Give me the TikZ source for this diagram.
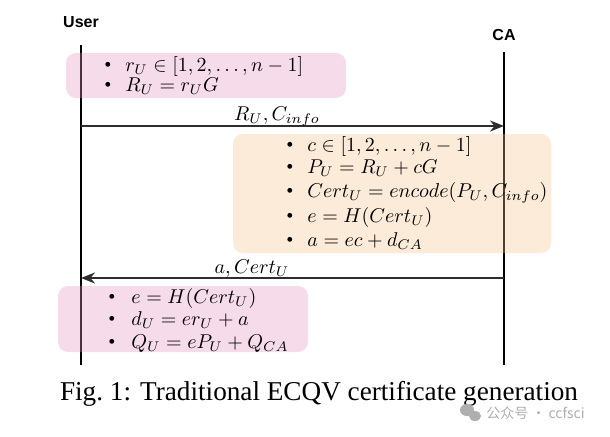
\documentclass[tikz,border=0pt]{standalone}
\usepackage{fontspec}
\usepackage{amsmath}
\setmainfont{Liberation Serif}
\newfontfamily\lblfont{Liberation Sans}
\newfontfamily\cjkfont{Noto Sans CJK SC}
\usetikzlibrary{arrows.meta}
\definecolor{pinkbox}{RGB}{230,150,195}
\definecolor{orangebox}{RGB}{250,195,140}
\definecolor{msggray}{RGB}{45,45,45}
\definecolor{wmgray}{RGB}{175,175,175}
\begin{document}
\begin{tikzpicture}[x=0.5pt,y=-0.5pt,
  actor/.style={font=\lblfont\bfseries\fontsize{8}{9}\selectfont, inner sep=0pt},
  lifeline/.style={line width=0.7pt, black},
  msg/.style={line width=1pt, msggray, -{Stealth[length=7pt,width=5.5pt]}},
  msglabel/.style={font=\fontsize{10.1}{11}\selectfont, inner sep=0pt, anchor=base},
  pbox/.style={fill=pinkbox, fill opacity=0.33, rounded corners=5pt, draw=none},
  obox/.style={fill=orangebox, fill opacity=0.33, rounded corners=5pt, draw=none},
  item/.style={font=\fontsize{10.1}{11}\selectfont, inner sep=0pt, anchor=base west},
  bul/.style={font=\fontsize{10.1}{11}\selectfont, inner sep=0pt, anchor=base}
]
\useasboundingbox (0,0) rectangle (610,436);
\fill[white] (0,0) rectangle (610,436);

% actors
\node[actor] (user) at (81,22) {User};
\node[actor] (ca) at (504,35) {CA};
\coordinate (utop) at (81,45);
\coordinate (ubot) at (81,365);
\coordinate (ctop) at (504,52);
\coordinate (cbot) at (504,365);
\draw[lifeline] (utop) -- (ubot);
\draw[lifeline] (ctop) -- (cbot);

% messages
\coordinate (m1s) at (81,126);
\coordinate (m1e) at (504,126);
\coordinate (m2s) at (504,278);
\coordinate (m2e) at (81,278);
\draw[msg] (m1s) -- (m1e);
\draw[msg] (m2s) -- (m2e);
\node[msglabel] (l1) at (277,120.5) {$R_U, C_{info}$};
\node[msglabel] (l2) at (252,273) {$a, Cert_U$};

% boxes
\path[pbox] (66,53) rectangle (346,98);
\path[obox] (233,134) rectangle (551,253);
\path[pbox] (58,286) rectangle (308,352);

% box 1
\node[bul] (b11) at (108,71) {\textbullet};
\node[item] (t11) at (125,71) {$r_U \in [1, 2, \ldots, n-1]$};
\node[bul] (b12) at (108,91) {\textbullet};
\node[item] (t12) at (125,91) {$R_U = r_U G$};

% box 2
\node[bul] (b21) at (290,151.5) {\textbullet};
\node[item] (t21) at (307,151.5) {$c \in [1, 2, \ldots, n-1]$};
\node[bul] (b22) at (290,173.5) {\textbullet};
\node[item] (t22) at (307,173.5) {$P_U = R_U + cG$};
\node[bul] (b23) at (290,197.5) {\textbullet};
\node[item] (t23) at (307,197.5) {$Cert_U = encode(P_U, C_{info})$};
\node[bul] (b24) at (290,222) {\textbullet};
\node[item] (t24) at (307,222) {$e = H(Cert_U)$};
\node[bul] (b25) at (290,246.5) {\textbullet};
\node[item] (t25) at (307,246.5) {$a = ec + d_{CA}$};

% box 3
\node[bul] (b31) at (112,303) {\textbullet};
\node[item] (t31) at (131,303) {$e = H(Cert_U)$};
\node[bul] (b32) at (112,325) {\textbullet};
\node[item] (t32) at (131,325) {$d_U = e r_U + a$};
\node[bul] (b33) at (112,348) {\textbullet};
\node[item] (t33) at (131,348) {$Q_U = e P_U + Q_{CA}$};

% caption
\node[font=\fontsize{13.6}{15}\selectfont, inner sep=0pt, anchor=base] (cap) at (319,400)
  {Fig.~1: Traditional ECQV certificate generation};

% watermark
\fill[wmgray] (467,410) ellipse (7 and 6);
\fill[wmgray] (475,416) ellipse (6 and 5);
\node[font=\cjkfont\fontsize{7}{8}\selectfont, text=wmgray, inner sep=0pt, anchor=base west] (wm) at (486,418) {公众号 · ccfsci};
\end{tikzpicture}
\end{document}
